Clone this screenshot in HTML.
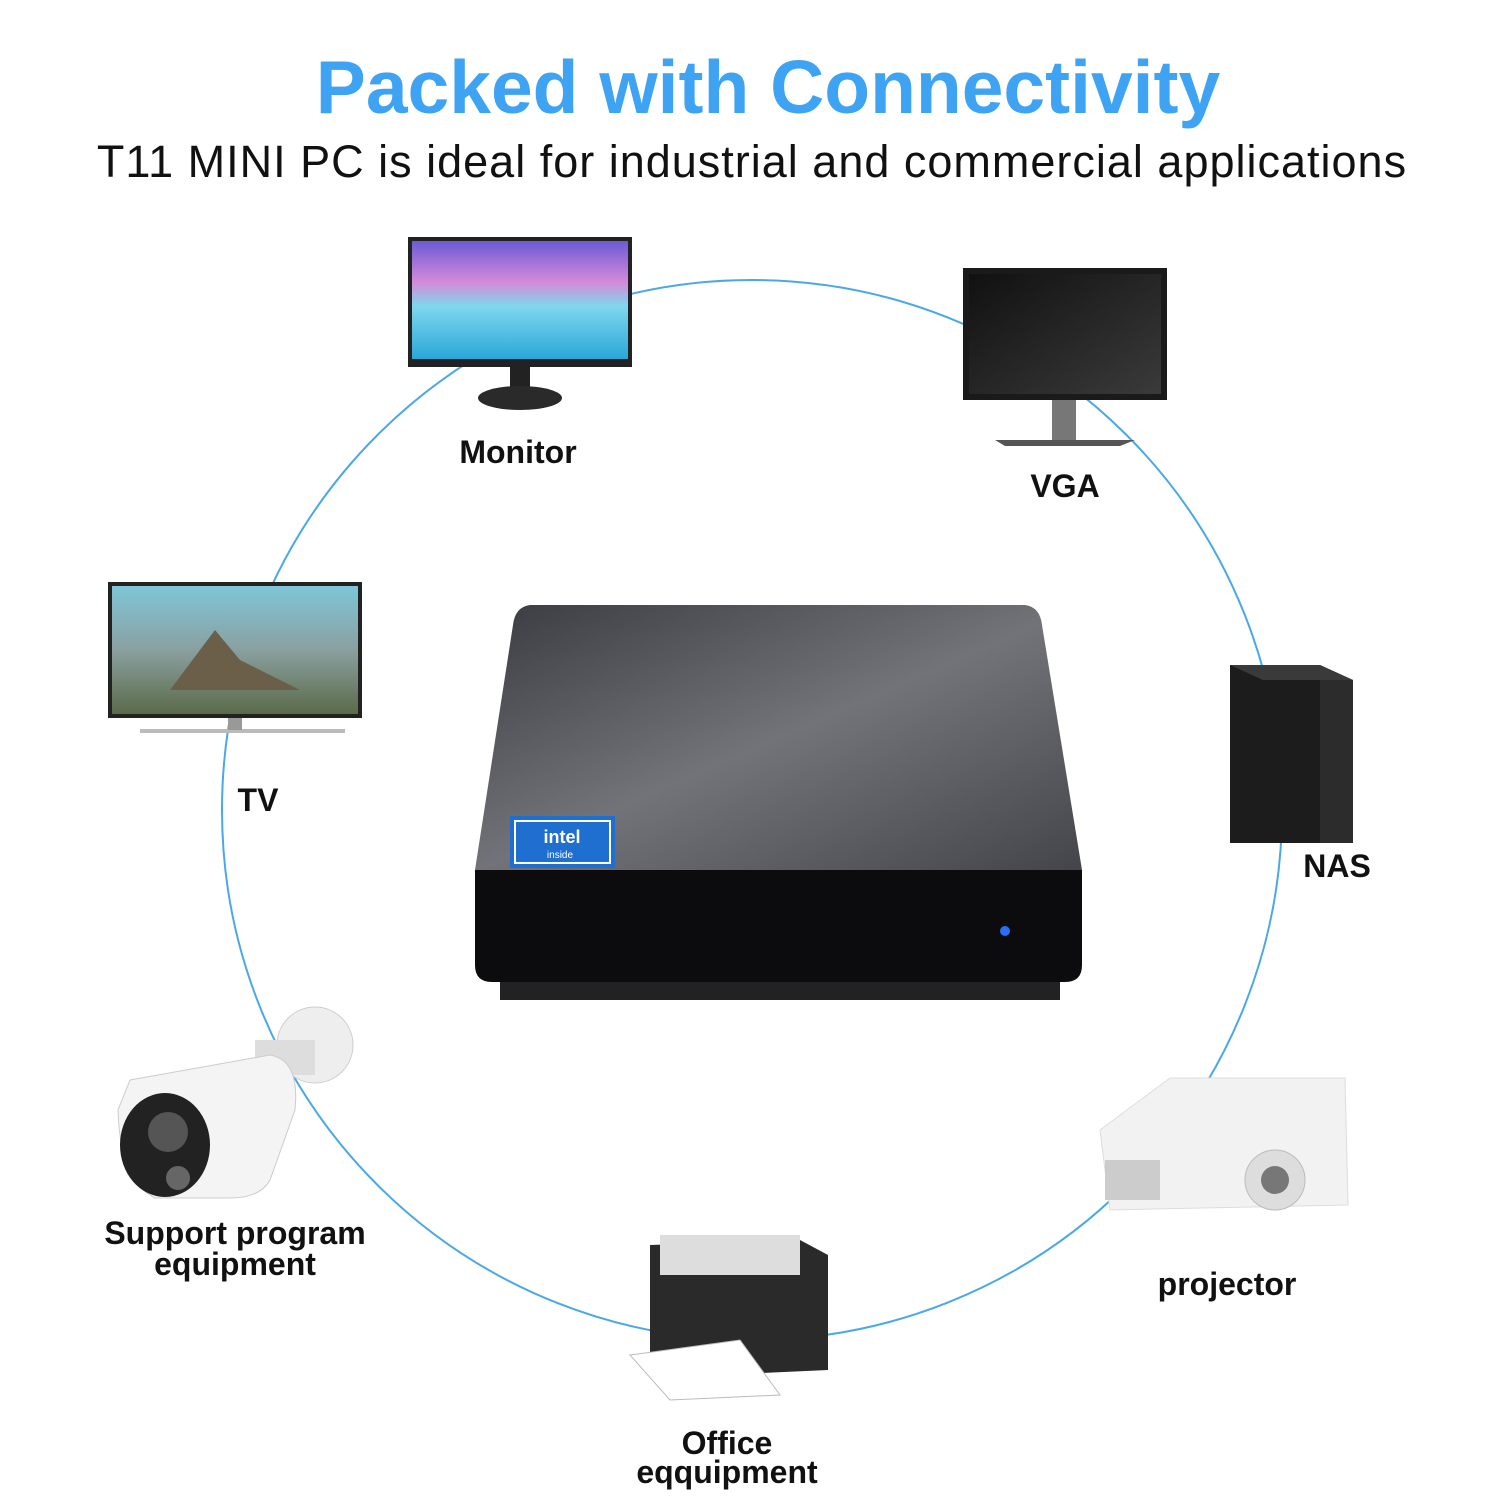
<!DOCTYPE html>
<html><head><meta charset="utf-8"><style>
html,body{margin:0;padding:0;background:#fff;}
svg{display:block;}
</style></head><body>
<svg width="1500" height="1500" viewBox="0 0 1500 1500" xmlns="http://www.w3.org/2000/svg">
<defs>
<linearGradient id="sky" x1="0" y1="0" x2="0" y2="1">
<stop offset="0" stop-color="#6a5bd6"/><stop offset="0.35" stop-color="#d58ad8"/><stop offset="0.55" stop-color="#7fd7ee"/><stop offset="1" stop-color="#2aa7d8"/></linearGradient>
<linearGradient id="tv" x1="0" y1="0" x2="0" y2="1">
<stop offset="0" stop-color="#7fc6d8"/><stop offset="0.5" stop-color="#8aa0a0"/><stop offset="1" stop-color="#5b6a4a"/></linearGradient>
<linearGradient id="top" x1="0" y1="0" x2="1" y2="1">
<stop offset="0" stop-color="#3a3b40"/><stop offset="0.5" stop-color="#727378"/><stop offset="1" stop-color="#44454a"/></linearGradient>
<linearGradient id="vga" x1="0" y1="0" x2="1" y2="1">
<stop offset="0" stop-color="#111"/><stop offset="1" stop-color="#3a3a3a"/></linearGradient>
</defs>
<text x="768" y="113" text-anchor="middle" font-family="Liberation Sans, sans-serif" font-weight="bold" font-size="75" fill="#3ea3f2">Packed with Connectivity</text>
<text x="752" y="177" text-anchor="middle" font-family="Liberation Sans, sans-serif" font-size="45" fill="#111" letter-spacing="1">T11 MINI PC is ideal for industrial and commercial applications</text>
<circle cx="752" cy="810" r="530" fill="none" stroke="#4aa8e8" stroke-width="2"/>
<rect x="470" y="360" width="100" height="55" fill="#fff"/>
<rect x="408" y="237" width="224" height="130" fill="#222"/>
<rect x="412" y="241" width="216" height="118" fill="url(#sky)"/>
<rect x="510" y="367" width="20" height="25" fill="#222"/>
<ellipse cx="520" cy="398" rx="42" ry="12" fill="#2a2a2a"/>
<rect x="963" y="268" width="204" height="132" fill="#1a1a1a"/>
<rect x="969" y="274" width="192" height="120" fill="url(#vga)"/>
<rect x="1052" y="400" width="24" height="40" fill="#777"/>
<polygon points="995,440 1135,440 1120,446 1005,446" fill="#555"/>
<rect x="108" y="582" width="254" height="136" fill="#222"/>
<rect x="112" y="586" width="246" height="128" fill="url(#tv)"/>
<polygon points="170,690 215,630 240,660 300,690" fill="#6b5f4a"/>
<rect x="140" y="729" width="205" height="4" fill="#bbb"/>
<rect x="228" y="718" width="14" height="12" fill="#999"/>
<rect x="1230" y="665" width="90" height="178" fill="#1c1c1c"/>
<polygon points="1320,665 1353,680 1353,843 1320,843" fill="#2c2c2c"/>
<polygon points="1230,665 1320,665 1353,680 1263,680" fill="#3a3a3a"/>
<path d="M530 605 L1025 605 Q1040 607 1042 625 L1082 870 L475 870 L513 625 Q515 607 530 605 Z" fill="url(#top)"/>
<path d="M475 870 L1082 870 L1082 965 Q1082 982 1065 982 L492 982 Q475 982 475 965 Z" fill="#0c0c0e"/>
<rect x="500" y="982" width="560" height="18" fill="#222"/>
<rect x="510" y="816" width="105" height="52" fill="#1e6fd0"/>
<rect x="515" y="821" width="95" height="42" fill="none" stroke="#fff" stroke-width="2"/>
<text x="562" y="843" text-anchor="middle" font-family="Liberation Sans, sans-serif" font-weight="bold" font-size="18" fill="#fff">intel</text>
<text x="560" y="858" text-anchor="middle" font-family="Liberation Sans, sans-serif" font-size="10" fill="#fff">inside</text>
<circle cx="1005" cy="931" r="5" fill="#2a6ef5"/>
<ellipse cx="315" cy="1045" rx="38" ry="38" fill="#eee" stroke="#ccc"/>
<rect x="255" y="1040" width="60" height="35" fill="#ddd"/>
<path d="M130 1080 L270 1055 Q300 1060 295 1110 L270 1180 Q260 1198 230 1198 L155 1198 Q120 1180 118 1110 Z" fill="#f4f4f4" stroke="#ccc"/>
<ellipse cx="165" cy="1145" rx="45" ry="52" fill="#222"/>
<circle cx="168" cy="1132" r="20" fill="#555"/>
<circle cx="178" cy="1178" r="12" fill="#666"/>
<path d="M1100 1130 L1170 1078 L1345 1078 L1348 1205 L1110 1210 Z" fill="#f2f2f2" stroke="#ddd"/>
<circle cx="1275" cy="1180" r="30" fill="#ddd" stroke="#bbb"/>
<circle cx="1275" cy="1180" r="14" fill="#777"/>
<rect x="1105" y="1160" width="55" height="40" fill="#ccc"/>
<path d="M650 1245 L800 1240 L828 1255 L828 1370 L650 1378 Z" fill="#2a2a2a"/>
<rect x="660" y="1235" width="140" height="40" fill="#ddd"/>
<polygon points="630,1355 740,1340 780,1395 670,1400" fill="#fff" stroke="#bbb"/>
<g font-family="Liberation Sans, sans-serif" font-weight="bold" font-size="32" fill="#111" text-anchor="middle">
<text x="518" y="463">Monitor</text>
<text x="1065" y="497">VGA</text>
<text x="258" y="811">TV</text>
<text x="1337" y="877">NAS</text>
<text x="235" y="1244">Support program</text>
<text x="235" y="1275">equipment</text>
<text x="1227" y="1295">projector</text>
<text x="727" y="1454">Office</text>
<text x="727" y="1483">eqquipment</text>
</g>
</svg>
</body></html>
